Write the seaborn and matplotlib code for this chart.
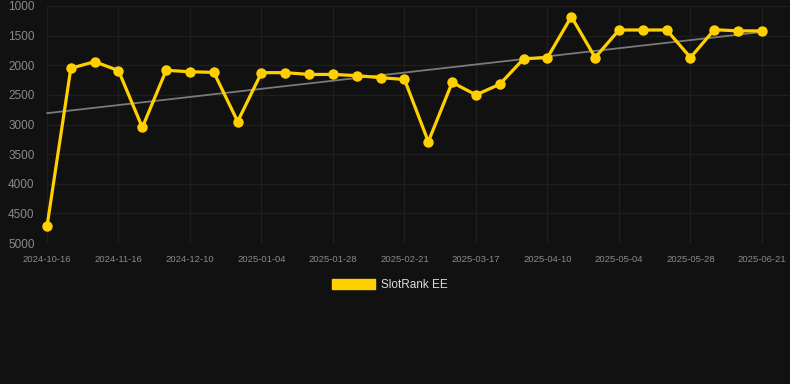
import numpy as np
import pandas as pd
import seaborn as sns
import matplotlib.pyplot as plt
from matplotlib.patches import Patch

# datas (eixo por categoria, so uma em cada tres aparece)
dates = ['2024-10-16', '2024-10-26', '2024-11-05', '2024-11-16', '2024-11-24',
         '2024-12-02', '2024-12-10', '2024-12-18', '2024-12-26', '2025-01-04',
         '2025-01-12', '2025-01-20', '2025-01-28', '2025-02-05', '2025-02-13',
         '2025-02-21', '2025-03-01', '2025-03-09', '2025-03-17', '2025-03-25',
         '2025-04-02', '2025-04-10', '2025-04-18', '2025-04-26', '2025-05-04',
         '2025-05-12', '2025-05-20', '2025-05-28', '2025-06-05', '2025-06-13',
         '2025-06-21']
rank = [4720, 2050, 1940, 2090, 3050, 2085, 2110, 2120, 2950, 2125,
        2125, 2155, 2155, 2175, 2210, 2240, 3290, 2290, 2500, 2320,
        1890, 1870, 1180, 1870, 1405, 1405, 1405, 1870, 1400, 1420,
        1420]
yticks = [1000, 1500, 2000, 2500, 3000, 3500, 4000, 4500, 5000]

df = pd.DataFrame({'date': dates, 'rank': rank})
df['idx'] = np.arange(len(df))

bg = '#111111'
grid = '#1e1e1e'
gold = '#FFD000'

sns.set_style('dark')
plt.rcParams['font.family'] = ['Liberation Sans', 'DejaVu Sans']

fig = plt.figure(figsize=(7.9, 3.84), dpi=100, facecolor=bg)
ax = fig.add_axes([47 / 790, 1 - 243 / 384, 743 / 790, 237 / 384])
ax.set_facecolor(bg)

# linha de tendencia
sns.regplot(x='idx', y='rank', data=df, scatter=False, ci=None, truncate=True,
            color='#7a7a7a', line_kws={'linewidth': 1.3, 'zorder': 2}, ax=ax)

sns.lineplot(x='idx', y='rank', data=df, color=gold, linewidth=2.3,
             marker='o', markersize=7.5, markeredgewidth=0, zorder=3, ax=ax)
for ln in ax.lines:
    ln.set_clip_on(False)

ax.set_ylim(5000, 1000)
ax.set_xlim(0, 30 + 28 / 23.83)
ax.set_yticks(yticks)
ax.set_yticklabels([str(v) for v in yticks])
ax.set_xticks(df['idx'][::3])
ax.set_xticklabels(df['date'][::3])
ax.grid(True, color=grid, linewidth=1)
ax.tick_params(axis='y', colors=grid, labelcolor='#8a8a8a', labelsize=8.5,
               length=7, width=1, pad=2)
ax.tick_params(axis='x', colors=grid, labelcolor='#8a8a8a', labelsize=6.8,
               length=7, width=1, pad=2)
for s in ax.spines.values():
    s.set_visible(False)
ax.set_xlabel('')
ax.set_ylabel('')

fig.legend(handles=[Patch(facecolor=gold, edgecolor=gold, label='SlotRank EE')],
           loc='center', bbox_to_anchor=(390 / 790, 1 - 285 / 384), frameon=False,
           handlelength=3.6, handleheight=1.0, handletextpad=0.5,
           labelcolor='#dddddd', fontsize=8.5)

fig.savefig('out.png', dpi=100, facecolor=bg)
